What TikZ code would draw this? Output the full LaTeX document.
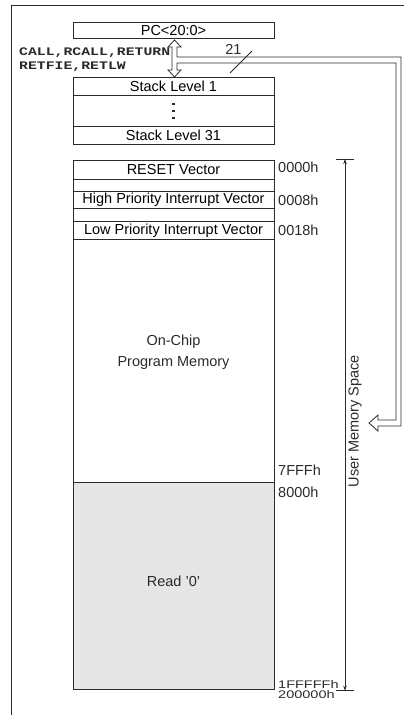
\documentclass[tikz,border=0pt]{standalone}
\usepackage{fontspec}
\setmainfont{Liberation Sans}
\newfontfamily\monof{Liberation Mono}
\usetikzlibrary{arrows.meta}
\definecolor{ink}{HTML}{2A2A2A}
\definecolor{shade}{HTML}{E6E6E6}
\tikzset{
  box/.style={draw=ink, line width=0.8pt, inner sep=0pt, outer sep=0pt, minimum width=201pt, font=\fontsize{14.5}{17}\selectfont},
  lbl/.style={inner sep=0pt, font=\fontsize{14.5}{17}\selectfont, text=ink},
  addr/.style={lbl, anchor=west},
  mono/.style={inner sep=0pt, anchor=west, text=ink, font=\monof\bfseries\fontsize{14.8}{15}\selectfont},
  ln/.style={draw=ink, line width=0.8pt},
}
\begin{document}
\begin{tikzpicture}[x=1pt, y=-1pt]
\useasboundingbox (0,0) rectangle (404,715);
% frame
\draw[ln] (404,5.5) -- (11,5.5) -- (11,715);
% PC and stack
\node[box, minimum height=16pt] (pc) at (173.5,30.3) {PC<20:0>};
\node[box, minimum height=18pt] (s1) at (173.5,86.7) {Stack Level 1};
\node[box, minimum height=30.3pt] (sd) at (173.5,110.85) {};
\node[box, minimum height=18pt] (s31) at (173.5,135) {Stack Level 31};
\foreach \yy/\nm in {104/d1,111/d2,118/d3}
  \node[fill=ink, minimum size=2.4pt, inner sep=0pt] (\nm) at (173.5,\yy) {};
% memory
\node[box, minimum height=19pt] (reset) at (173.5,169.5) {RESET Vector};
\node[box, minimum height=12.7pt] (g1) at (173.5,185.35) {};
\node[box, minimum height=16.6pt] (hi) at (173.5,200) {High Priority Interrupt Vector};
\node[box, minimum height=13.4pt] (g2) at (173.5,215) {};
\node[box, minimum height=17.6pt] (lo) at (173.5,230.5) {Low Priority Interrupt Vector};
\node[box, minimum height=243.4pt] (onchip) at (173.5,361) {};
\node[box, fill=shade, minimum height=206.6pt] (read) at (173.5,586) {};
\node[lbl, align=center, font=\fontsize{14.5}{21}\selectfont] (ontxt) at (173.5,352) {On-Chip\\Program Memory};
\node[lbl] (readtxt) at (173.5,581) {Read '0'};
% addresses
\node[addr] (a0) at (278,167) {0000h};
\node[addr] (a8) at (278,200) {0008h};
\node[addr] (a18) at (278,230) {0018h};
\node[addr] (a7f) at (278,470) {7FFFh};
\node[addr] (a80) at (278,492) {8000h};
\node[addr] (a1f) at (278,684.5) {\scalebox{1}[0.76]{1FFFFFh}};
\node[addr] (a20) at (278,694.8) {\scalebox{1}[0.76]{200000h}};
% call text
\node[mono] (calls1) at (19,53) {\scalebox{1}[0.78]{CALL,RCALL,RETURN}};
\node[mono] (calls2) at (19,67) {\scalebox{1}[0.78]{RETFIE,RETLW}};
% hollow double arrow and bus
\draw[ln, line join=miter]
  (174.5,40) -- (181,47) -- (177,47) -- (177,57) -- (401,57) -- (401,426)
  -- (378,426) -- (378,431) -- (369,423) -- (378,415) -- (378,420)
  -- (396,420) -- (396,63) -- (177,63) -- (177,70) -- (181,70)
  -- (174.5,77) -- (168,70) -- (172,70) -- (172,47) -- (168,47) -- cycle;
\node[lbl] (w21) at (233.5,49) {21};
\coordinate (sl1) at (230,73);
\coordinate (sl2) at (252,51);
\draw[ln] (sl1) -- (sl2);
% user memory space
\coordinate (ut) at (345,159);
\coordinate (ub) at (345,690.7);
\draw[ln] (336,159) -- (354,159);
\draw[ln] (336,690.7) -- (354,690.7);
\draw[ln, {Stealth[length=5pt,width=3.5pt]}-{Stealth[length=5pt,width=3.5pt]}] (ut) -- (ub);
\node[lbl, rotate=90] (ums) at (355,421) {User Memory Space};
\end{tikzpicture}
\end{document}
